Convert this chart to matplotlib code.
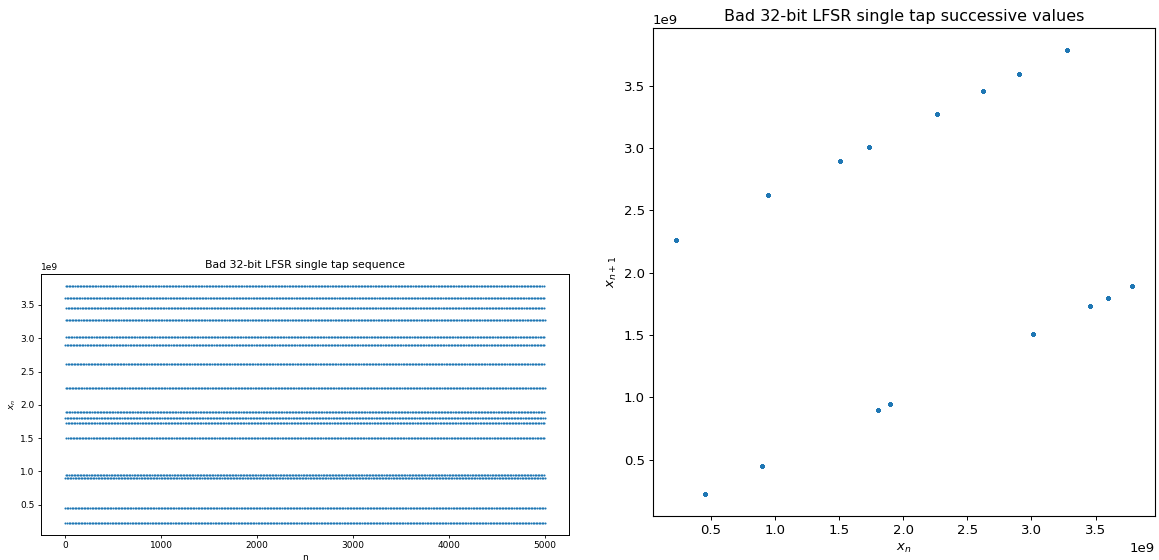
import matplotlib
matplotlib.use("Agg")
import matplotlib.pyplot as plt
import numpy as np

# one period of the register states, repeats every 16 steps
cycle = [2.9005e9, 3.5977e9, 1.7988e9, 0.8994e9, 0.4497e9, 0.2249e9, 2.2599e9, 3.2774e9,
         3.7862e9, 1.8931e9, 0.9466e9, 2.6207e9, 3.4579e9, 1.7289e9, 3.0119e9, 1.5060e9]
n_steps = 5000

seq = np.tile(cycle, n_steps // len(cycle) + 1)[:n_steps]
n = np.arange(n_steps)

fig = plt.figure(figsize=(11.59, 5.60), dpi=100)

# left: the sequence itself, drawn small
ax1 = fig.add_axes([41/1159, 1 - 535/560, 528/1159, 261/560])
ax1.plot(n, seq, '.', color='#1f77b4', markersize=3.0, markeredgewidth=0)
ax1.set_title('Bad 32-bit LFSR single tap sequence', fontsize=7.8, pad=4)
ax1.set_xlabel('n', fontsize=6.5, labelpad=2)
ax1.set_ylabel('$x_n$', fontsize=6.5, labelpad=2)
ax1.tick_params(labelsize=6.5, length=2.5, width=0.6, pad=2)
ax1.yaxis.get_offset_text().set_fontsize(6.5)
for s in ax1.spines.values():
    s.set_linewidth(0.7)

# right: successive pairs
ax2 = fig.add_axes([653/1159, 1 - 516/560, 502/1159, 488/560])
ax2.plot(seq[:-1], seq[1:], '.', color='#1f77b4', markersize=3.3)
ax2.set_title('Bad 32-bit LFSR single tap successive values', fontsize=11.5, pad=5)
ax2.set_xlabel('$x_n$', fontsize=9.5, labelpad=3)
ax2.set_ylabel('$x_{n+1}$', fontsize=9.5, labelpad=3)
ax2.tick_params(labelsize=9.5, length=3, width=0.7, pad=3)
ax2.xaxis.get_offset_text().set_fontsize(9.5)
ax2.yaxis.get_offset_text().set_fontsize(9.5)
for s in ax2.spines.values():
    s.set_linewidth(0.8)

fig.savefig('out.png', dpi=100)
